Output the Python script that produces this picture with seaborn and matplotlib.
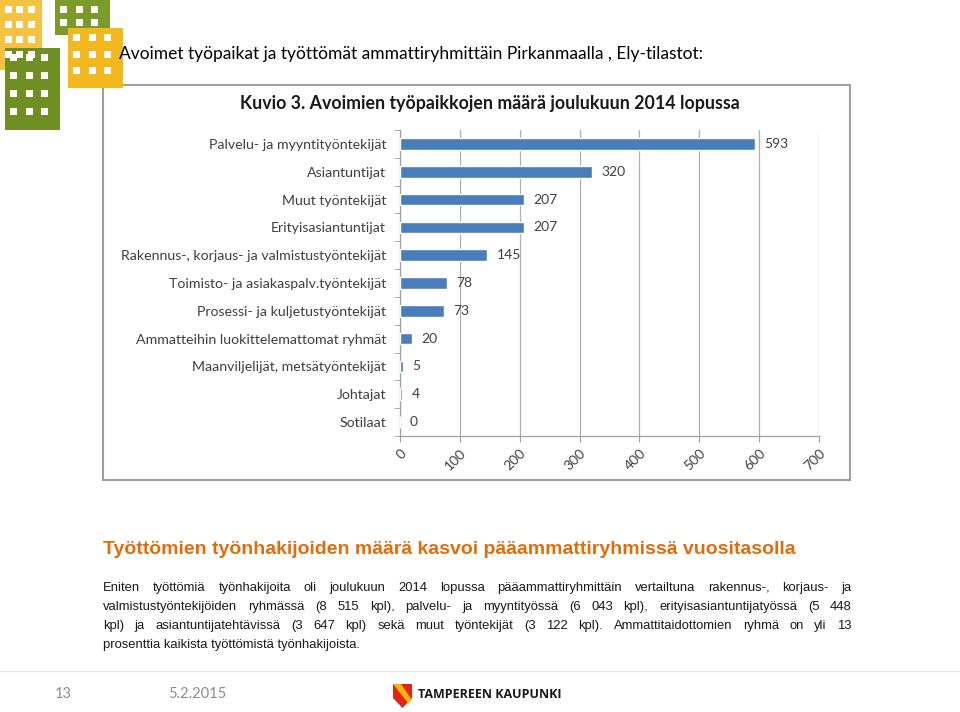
import numpy as np
import pandas as pd
import seaborn as sns
import matplotlib.pyplot as plt
from matplotlib.patches import Rectangle, Polygon

# data
ammatit = ["Palvelu- ja myyntityöntekijät", "Asiantuntijat", "Muut työntekijät",
           "Erityisasiantuntijat", "Rakennus-, korjaus- ja valmistustyöntekijät",
           "Toimisto- ja asiakaspalv.työntekijät", "Prosessi- ja kuljetustyöntekijät",
           "Ammatteihin luokittelemattomat ryhmät", "Maanviljelijät, metsätyöntekijät",
           "Johtajat", "Sotilaat"]
avoimet = [593, 320, 207, 207, 145, 78, 73, 20, 5, 4, 0]
x_ticks = [0, 100, 200, 300, 400, 500, 600, 700]

otsikko = "Avoimet työpaikat ja työttömät ammattiryhmittäin Pirkanmaalla , Ely-tilastot:"
kuvio_otsikko = "Kuvio 3. Avoimien työpaikkojen määrä joulukuun 2014 lopussa"
alaotsikko = "Työttömien työnhakijoiden määrä kasvoi pääammattiryhmissä vuositasolla"
kappale = [
    "Eniten työttömiä työnhakijoita oli joulukuun 2014 lopussa pääammattiryhmittäin vertailtuna rakennus-, korjaus- ja",
    "valmistustyöntekijöiden ryhmässä (8 515 kpl), palvelu- ja myyntityössä (6 043 kpl), erityisasiantuntijatyössä (5 448",
    "kpl) ja asiantuntijatehtävissä (3 647 kpl) sekä muut työntekijät (3 122 kpl). Ammattitaidottomien ryhmä on yli 13",
    "prosenttia kaikista työttömistä työnhakijoista.",
]

df = pd.DataFrame({"ammatti": ammatit, "maara": avoimet})

sns.set_style("white")
plt.rcParams['font.family'] = ['Lato', 'DejaVu Sans']

W, H = 960, 712
fig = plt.figure(figsize=(9.6, 7.12), dpi=100)


def fx(px):
    return px / W


def fy(py):
    return 1 - py / H


# logo (approx.)
def tiili(x0, y0, w, h, vari, rivit, sarakkeet):
    fig.patches.append(Rectangle((fx(x0), fy(y0 + h)), w / W, h / H, transform=fig.transFigure,
                                 facecolor=vari, edgecolor='none', zorder=1))
    for r in range(rivit):
        for s in range(sarakkeet):
            cx = x0 + 5 + s * (w - 8) / sarakkeet
            cy = y0 + 6 + r * (h - 10) / rivit
            fig.patches.append(Rectangle((fx(cx), fy(cy + 7)), 7 / W, 7 / H, transform=fig.transFigure,
                                         facecolor='white', edgecolor='none', zorder=2))


tiili(0, 0, 42, 70, '#f5c242', 4, 3)
tiili(55, 0, 55, 35, '#7a9a2a', 2, 3)
tiili(68, 28, 55, 60, '#f2b81e', 3, 3)
tiili(5, 48, 55, 82, '#6f8f22', 4, 3)

fig.text(fx(119), fy(54), otsikko, fontsize=12.5, va='center', ha='left', color='black')

# chart frame
fig.patches.append(Rectangle((fx(103), fy(480)), 747 / W, 395 / H, transform=fig.transFigure,
                             facecolor='none', edgecolor='#a0a0a0', linewidth=1.5, zorder=-1))
fig.text(fx(490), fy(104), kuvio_otsikko, fontsize=12.8, fontweight='bold', ha='center', va='center',
         color='#1a1a1a')

ax = fig.add_axes([fx(400), fy(436), 419 / W, 306 / H])
sns.barplot(data=df, x="maara", y="ammatti", color="#4a7ebb", saturation=1, width=0.42, ax=ax, zorder=3)
ax.bar_label(ax.containers[0], padding=7, fontsize=10, color='#404040')
ax.set_xlim(0, 700)
ax.set_ylim(10.5, -0.5)
ax.set_xticks(x_ticks)
ax.set_xticklabels([str(t) for t in x_ticks], rotation=45, ha='right', rotation_mode='anchor',
                   fontsize=10, color='#404040')
ax.set_yticks(range(len(ammatit)))
ax.set_yticklabels(ammatit, fontsize=10.2, color='#404040')
ax.set_yticks(np.arange(-0.5, len(ammatit), 1), minor=True)
ax.tick_params(axis='y', which='major', length=0, pad=10)
ax.tick_params(axis='y', which='minor', length=4, color='#a0a0a0', left=True)
ax.tick_params(axis='x', length=4, color='#a0a0a0', bottom=True, pad=4)
ax.grid(axis='x', color='#b0b0b0', linewidth=0.9, zorder=0)
ax.set_axisbelow(True)
ax.set_xlabel("")
ax.set_ylabel("")
for s in ['top', 'right']:
    ax.spines[s].set_visible(False)
for s in ['left', 'bottom']:
    ax.spines[s].set_color('#a0a0a0')
    ax.spines[s].set_linewidth(0.9)

# bottom text
fig.text(fx(103), fy(549), alaotsikko, fontsize=14, fontweight='bold', color='#e36c0a',
         family=['Liberation Sans'], va='center', ha='left')

renderer = fig.canvas.get_renderer()
vasen, oikea = 103, 852
for i, rivi in enumerate(kappale):
    y = fy(591 + i * 19)
    sanat = rivi.split(" ")
    if i == len(kappale) - 1:
        fig.text(fx(vasen), y, rivi, fontsize=9.4, family=['Liberation Sans'], color='#1a1a1a',
                 va='baseline')
        continue
    tekstit = [fig.text(0, y, s, fontsize=9.4, family=['Liberation Sans'], color='#1a1a1a',
                        va='baseline') for s in sanat]
    leveydet = [t.get_window_extent(renderer).width for t in tekstit]
    vali = (oikea - vasen - sum(leveydet)) / (len(sanat) - 1)
    x = vasen
    for t, lw in zip(tekstit, leveydet):
        t.set_x(fx(x))
        x += lw + vali

# footer
fig.add_artist(plt.Line2D([0, 1], [fy(671), fy(671)], color='#e6e6e6', linewidth=1))
fig.text(fx(63), fy(694), "13", fontsize=10.5, color='#8c8c8c', va='center', ha='center')
fig.text(fx(168), fy(694), "5.2.2015", fontsize=10.5, color='#8c8c8c', va='center', ha='left')
fig.patches.append(Polygon([(fx(393), fy(684)), (fx(412), fy(684)), (fx(412), fy(698)),
                            (fx(402.5), fy(708)), (fx(393), fy(698))], closed=True,
                           transform=fig.transFigure, facecolor='#e2231a', edgecolor='none'))
fig.patches.append(Polygon([(fx(393), fy(684)), (fx(401), fy(684)), (fx(412), fy(700)),
                            (fx(408), fy(703))], closed=True,
                           transform=fig.transFigure, facecolor='#f7b500', edgecolor='none'))
fig.text(fx(418), fy(695), "TAMPEREEN KAUPUNKI", fontsize=9, fontweight='bold', color='#1a1a1a',
         family=['Open Sans', 'DejaVu Sans'], va='center', ha='left')

fig.savefig("out.png", dpi=100)
